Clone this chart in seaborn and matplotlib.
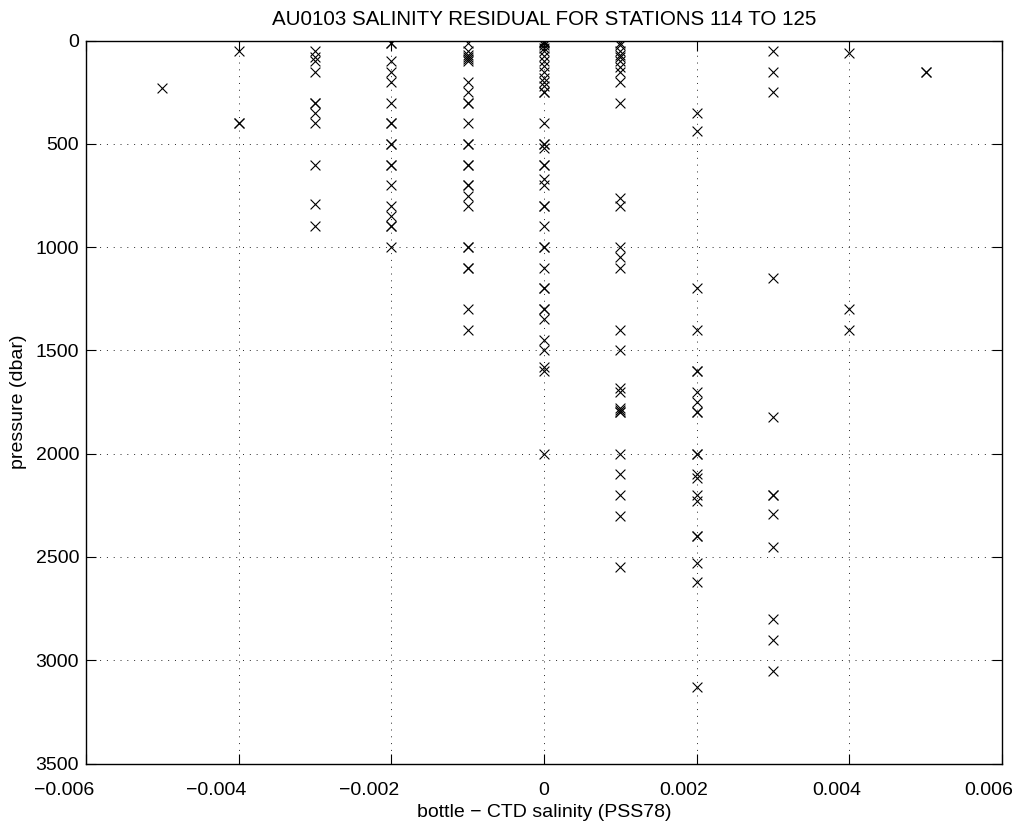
import numpy as np
import pandas as pd
import matplotlib
matplotlib.use("Agg")
import matplotlib.pyplot as plt
import matplotlib.transforms as mtransforms
import seaborn as sns

# ---- data: pressures (dbar) observed at each rounded salinity residual ----
residual_levels = [-0.005, -0.004, -0.003, -0.002, -0.001, 0.0,
                   0.001, 0.002, 0.003, 0.004, 0.005]

p_m005 = [230]
p_m004 = [50, 400, 400]
p_m003 = [50, 80, 100, 150, 300, 300, 350, 400, 600, 790, 900]
p_m002 = [10, 10, 100, 150, 200, 300, 400, 400, 500, 500, 600, 600,
          700, 800, 850, 900, 900, 1000]
p_m001 = [10, 50, 70, 80, 90, 100, 200, 250, 300, 300, 400, 500, 500,
          600, 600, 700, 700, 750, 800, 1000, 1000, 1100, 1100, 1300, 1400]
p_000 = [0, 5, 10, 20, 35, 50, 75, 100, 125, 150, 180, 200, 220, 250, 250,
         400, 500, 500, 520, 600, 600, 670, 700, 800, 800, 900, 1000, 1000,
         1100, 1200, 1200, 1300, 1300, 1350, 1450, 1500, 1580, 1600, 2000]
p_p001 = [10, 20, 50, 70, 80, 100, 130, 150, 200, 300, 760, 800, 1000,
          1050, 1100, 1400, 1500, 1680, 1700, 1780, 1790, 1800, 1800, 2000,
          2100, 2200, 2300, 2550]
p_p002 = [350, 440, 1200, 1400, 1600, 1600, 1700, 1750, 1800, 1800, 2000,
          2000, 2100, 2120, 2200, 2230, 2400, 2400, 2530, 2620, 3130]
p_p003 = [50, 150, 250, 1150, 1820, 2200, 2200, 2290, 2450, 2800, 2900, 3050]
p_p004 = [60, 1300, 1400]
p_p005 = [150, 150]

pressure_groups = [p_m005, p_m004, p_m003, p_m002, p_m001, p_000,
                   p_p001, p_p002, p_p003, p_p004, p_p005]

x_ticks = [-0.006, -0.004, -0.002, 0, 0.002, 0.004, 0.006]
x_tick_labels = ["\u22120.006", "\u22120.004", "\u22120.002", "0",
                 "0.002", "0.004", "0.006"]
y_ticks = [0, 500, 1000, 1500, 2000, 2500, 3000, 3500]

title = "AU0103 SALINITY RESIDUAL FOR STATIONS 114 TO 125"
xlabel = "bottle \u2212 CTD salinity (PSS78)"
ylabel = "pressure (dbar)"

# ---- build table ----
rows = []
for lvl, grp in zip(residual_levels, pressure_groups):
    for p in grp:
        rows.append((lvl, p))
df = pd.DataFrame(rows, columns=["residual", "pressure"])

# ---- plot ----
sns.set_theme(style="white")
plt.rcParams["font.family"] = ["Liberation Sans", "DejaVu Sans"]
plt.rcParams["axes.unicode_minus"] = True
plt.rcParams["text.color"] = "black"
plt.rcParams["axes.labelcolor"] = "black"

fig = plt.figure(figsize=(10.18, 8.30), dpi=100)
ax = fig.add_axes([0.0845, 0.0801, 0.8998, 0.871])

sns.scatterplot(data=df, x="residual", y="pressure", marker="x",
                color="black", s=50, linewidth=0.8, ax=ax, legend=False)

ax.set_xlim(-0.006, 0.006)
ax.set_ylim(3500, 0)
ax.set_xticks(x_ticks)
ax.set_xticklabels(x_tick_labels)
ax.set_yticks(y_ticks)
ax.set_yticklabels([str(v) for v in y_ticks])

ax.grid(True, linestyle=(0, (1, 6)), color="black", linewidth=0.7, alpha=0.85)
ax.set_axisbelow(True)

for s in ax.spines.values():
    s.set_visible(True)
    s.set_color("black")
    s.set_linewidth(1.0)

fs = 14
ax.tick_params(direction="in", length=7, width=0.8, top=True, right=True,
               bottom=True, left=True, labelsize=fs, colors="black")
ax.tick_params(axis="x", pad=13)
ax.tick_params(axis="y", pad=5)

# MATLAB-like left offset of x tick labels
for lab, val in zip(ax.get_xticklabels(), x_ticks):
    if val < 0:
        dx = -22
    elif val > 0:
        dx = -13
    else:
        dx = 0
    off = mtransforms.ScaledTranslation(dx / 100.0, 0, fig.dpi_scale_trans)
    lab.set_transform(lab.get_transform() + off)

ax.set_title(title, fontsize=14.8, pad=11, color="black")
ax.set_xlabel(xlabel, fontsize=fs, labelpad=4)
ax.set_ylabel(ylabel, fontsize=fs, labelpad=6)

fig.savefig("out.png", dpi=100, facecolor="white")
